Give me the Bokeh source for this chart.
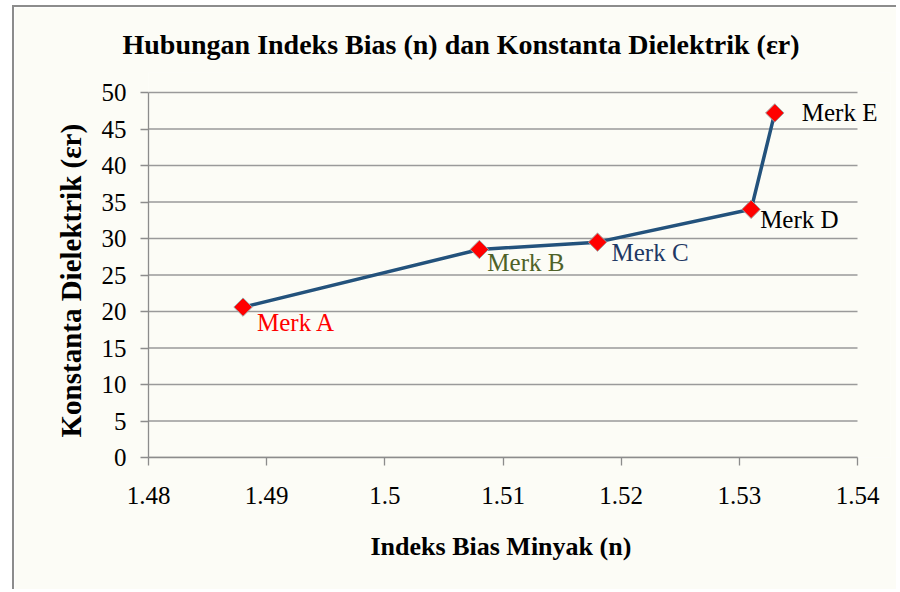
from bokeh.plotting import figure
from bokeh.models import FixedTicker, ColumnDataSource, LabelSet, Title
from bokeh.embed import file_html
from bokeh.resources import INLINE
from bokeh.core.properties import value

# data
brands = ["Merk A", "Merk B", "Merk C", "Merk D", "Merk E"]
refractive_index = [1.488, 1.508, 1.518, 1.531, 1.533]
dielectric_const = [20.6, 28.5, 29.5, 34.0, 47.2]
x_ticks = [1.48, 1.49, 1.50, 1.51, 1.52, 1.53, 1.54]
x_tick_labels = ["1.48", "1.49", "1.5", "1.51", "1.52", "1.53", "1.54"]
y_ticks = [0, 5, 10, 15, 20, 25, 30, 35, 40, 45, 50]

# styles for labels
label_colors = ["#ff0000", "#4f6228", "#1f3864", "#000000", "#000000"]
label_dx = [14, 8, 14, 9, 27]
label_dy = [-15, -13, -10, -10, 0]

FONT = "Liberation Serif"
BG = "#fcfcf6"

X_MIN, X_MAX = x_ticks[0], x_ticks[-1]
Y_MIN, Y_MAX = y_ticks[0], y_ticks[-1]
# frame extends past the tick span (right and top) so labels are not clipped
X_VIEW_MAX = X_MIN + (X_MAX - X_MIN) * 742.0 / 709.0
Y_VIEW_MAX = Y_MIN + (Y_MAX - Y_MIN) * 385.0 / 365.0

p = figure(width=884, height=584, x_range=(X_MIN, X_VIEW_MAX), y_range=(Y_MIN, Y_VIEW_MAX),
           output_backend="svg", toolbar_location=None,
           min_border_left=134, min_border_right=8,
           min_border_top=65, min_border_bottom=134,
           background_fill_color=BG, border_fill_color=BG,
           styles={"border-left": "2px solid #8c8c8c", "border-top": "2px solid #8c8c8c",
                   "margin-left": "12px", "margin-top": "5px"})

p.title.text = "Hubungan Indeks Bias (n) dan Konstanta Dielektrik (\u03b5r)"
p.title.text_font = FONT
p.title.text_font_size = "28px"
p.title.text_font_style = "bold"
p.title.text_color = "#000000"
p.title.align = "left"
p.title.offset = -26
p.title.standoff = 26

p.outline_line_color = None
p.xgrid.grid_line_color = None
p.ygrid.grid_line_color = None

# horizontal gridlines limited to the tick span
p.segment(x0=[X_MIN] * len(y_ticks), x1=[X_MAX] * len(y_ticks), y0=y_ticks, y1=y_ticks,
          line_color="#9a9a9a", line_width=1.3)

p.xaxis.ticker = FixedTicker(ticks=x_ticks)
p.xaxis.major_label_overrides = {t: l for t, l in zip(x_ticks, x_tick_labels)}
p.xaxis.bounds = (X_MIN, X_MAX)
p.yaxis.ticker = FixedTicker(ticks=y_ticks)
p.yaxis.bounds = (Y_MIN, Y_MAX)

for ax in (p.xaxis[0], p.yaxis[0]):
    ax.axis_line_color = "#8c8c8c"
    ax.axis_line_width = 1.3
    ax.major_tick_line_color = "#8c8c8c"
    ax.major_tick_line_width = 1.3
    ax.major_tick_out = 8
    ax.major_tick_in = 0
    ax.minor_tick_line_color = None
    ax.major_label_text_font = FONT
    ax.major_label_text_font_size = "25px"
    ax.major_label_text_color = "#000000"

p.xaxis.major_label_standoff = 21
p.yaxis.major_label_standoff = 14

# axis titles as panel titles so they can be positioned against the tick span
xtitle = Title(text="Indeks Bias Minyak (n)", text_font=FONT, text_font_size="26px",
               text_font_style="bold", text_color="#000000", align="left",
               offset=222, standoff=46)
p.add_layout(xtitle, "below")

ytitle = Title(text="Konstanta Dielektrik (\u03b5r)", text_font=FONT, text_font_size="29px",
               text_font_style="bold", text_color="#000000", align="left",
               offset=20, standoff=24)
p.add_layout(ytitle, "left")

src = ColumnDataSource(dict(x=refractive_index, y=dielectric_const, name=brands,
                            color=label_colors, dx=label_dx, dy=label_dy))

p.line("x", "y", source=src, line_color="#23527c", line_width=3.5)
p.scatter("x", "y", source=src, marker="square", size=13, angle=0.785398,
          fill_color="#ff0000", line_color="#a0a0a0", line_width=1)

labels = LabelSet(x="x", y="y", text="name", source=src, x_offset="dx", y_offset="dy",
                  text_color="color", text_font=value(FONT), text_font_size="25px",
                  text_baseline="middle", text_align="left")
p.add_layout(labels)

open("out.html", "w").write(file_html(p, INLINE))
